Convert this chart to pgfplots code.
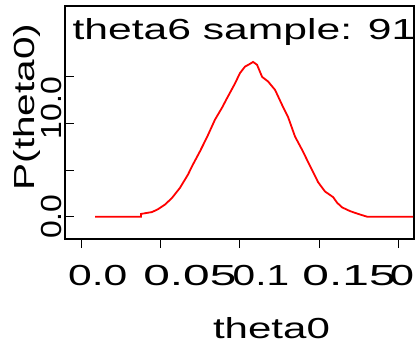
\documentclass[border=0pt]{standalone}
\usepackage{fontspec}
\setmainfont{Liberation Sans}
\usepackage{graphicx}
\usepackage{pgfplots}
\pgfplotsset{compat=1.18}
\newcommand\bigf{\fontsize{29}{34}\selectfont}
\begin{document}
\begin{tikzpicture}
\useasboundingbox (0,0) rectangle (416pt,341pt);
\clip (0,0) rectangle (416pt,341pt);
\begin{axis}[
  at={(65pt,102pt)}, anchor=south west,
  scale only axis, width=349pt, height=233pt,
  xmin=-0.01056, xmax=0.2100,
  ymin=-2.39, ymax=22.6,
  axis line style={line width=1.4pt, black},
  tick style={line width=1pt, black},
  major tick length=9pt,
  xtick pos=bottom, ytick pos=left,
  xtick align=outside, ytick align=inside,
  xtick={0,0.05,0.1,0.15,0.2},
  xticklabels={\hspace*{32pt}\scalebox{1.47}[1]{0.0},
               \hspace*{58pt}\scalebox{1.65}[1]{0.05},
               \hspace*{42pt}\scalebox{1.40}[1]{0.1},
               \hspace*{60pt}\scalebox{1.65}[1]{0.15},
               \hspace*{44pt}\scalebox{1.5}[1]{0.2}},
  xticklabel style={font=\bigf, anchor=base, yshift=-37pt},
  ytick={0,5,15},
  yticklabels={0.0,,},
  extra y ticks={10},
  extra y tick labels={10.0},
  extra y tick style={yticklabel style={xshift=14pt}},
  yticklabel style={font=\bigf, rotate=90, xscale=1.1, anchor=south},
  /pgf/number format/assume math mode=true,
  xlabel={theta0},
  ylabel={P(theta0)},
  every axis x label/.style={at={(axis description cs:0.5917,-0.427)}, anchor=base, inner sep=0pt, font=\bigf, xscale=1.45},
  every axis y label/.style={at={(axis description cs:-0.0888,0.5665)}, rotate=90, xscale=1.4, anchor=base, font=\bigf},
  title={theta6 sample: 91},
  every axis title/.style={at={(axis description cs:0.513,0.856)}, anchor=base, font=\bigf, xscale=1.47},
]
\addplot[red, line width=1.8pt] coordinates {
(0.0084,0) (0.0375,0) (0.0375,0.3) (0.0444,0.5) (0.0482,0.8) (0.0526,1.3)
(0.0570,2.0) (0.0621,3.1) (0.0671,4.5) (0.0703,5.6) (0.0747,7.0) (0.0791,8.5)
(0.0842,10.4) (0.0887,11.7) (0.0918,12.7) (0.0969,14.3) (0.1000,15.4) (0.1032,16.1)
(0.1064,16.4) (0.1083,16.6) (0.1108,16.3) (0.1140,15.0) (0.1178,14.5) (0.1222,13.6)
(0.1266,12.0) (0.1304,10.7) (0.1348,8.6) (0.1392,7.2) (0.1456,5.0) (0.1494,3.7)
(0.1538,2.7) (0.1589,2.1) (0.1614,1.5) (0.1646,1.0) (0.1696,0.6) (0.1747,0.3)
(0.1804,0.0) (0.2094,0.0)
};
\end{axis}
\end{tikzpicture}
\end{document}
